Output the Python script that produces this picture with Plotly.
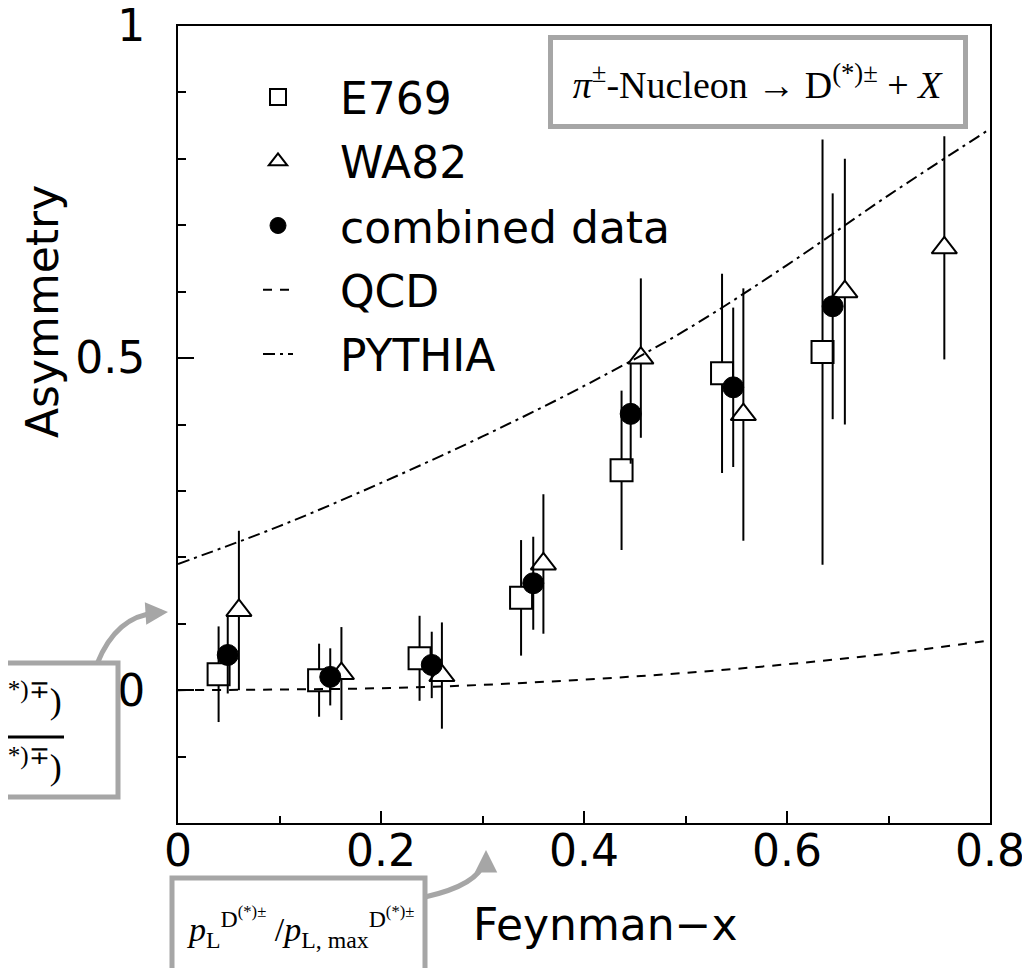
import plotly.graph_objects as go

# ---------------- data ----------------
e769_x = [0.040, 0.139, 0.238, 0.338, 0.437, 0.536, 0.635]
e769_y = [0.024, 0.015, 0.048, 0.139, 0.331, 0.477, 0.509]
e769_err = [0.072, 0.055, 0.064, 0.087, 0.120, 0.150, 0.320]

wa82_x = [0.060, 0.161, 0.260, 0.360, 0.456, 0.557, 0.657, 0.755]
wa82_y = [0.120, 0.025, 0.022, 0.190, 0.500, 0.415, 0.600, 0.666]
wa82_err = [0.120, 0.070, 0.080, 0.105, 0.120, 0.190, 0.200, 0.168]

comb_x = [0.049, 0.150, 0.250, 0.350, 0.446, 0.547, 0.645]
comb_y = [0.053, 0.020, 0.038, 0.161, 0.416, 0.456, 0.578]
comb_err = [0.058, 0.043, 0.050, 0.070, 0.075, 0.120, 0.170]

curve_x = [0.0, 0.1, 0.2, 0.3, 0.4, 0.5, 0.6, 0.7, 0.8]
qcd_y = [0.0, 0.001, 0.003, 0.008, 0.016, 0.026, 0.039, 0.055, 0.075]
pythia_y = [0.190, 0.247, 0.312, 0.382, 0.458, 0.542, 0.640, 0.745, 0.845]

x_ticks = [0, 0.2, 0.4, 0.6, 0.8]
x_tick_labels = ["0", "0.2", "0.4", "0.6", "0.8"]
y_ticks = [0, 0.5, 1]
y_tick_labels = ["0", "0.5", "1"]

# ---------------- layout helpers ----------------
# the page body has an 8px margin, so the figure is drawn 8px in from the corner
OFF = 8
W, H = 1030 - OFF, 968 - OFF
ML, MR, MT, MB = 178 - OFF, 40, 26 - OFF, 145
PW, PH = W - ML - MR, H - MT - MB


def px(xp):
    """picture x pixel -> paper coordinate"""
    return (xp - OFF - ML) / PW


def py(yp):
    """picture y pixel -> paper coordinate"""
    return (H - MB - (yp - OFF)) / PH


SANS = "DejaVu Sans"
SERIF = "Liberation Serif"
GRAY = "#a6a6a6"

fig = go.Figure()

err_style = dict(type="data", width=0, thickness=2, color="black")
pad = "\u00a0\u00a0\u00a0"

fig.add_trace(go.Scatter(
    x=e769_x, y=e769_y, mode="markers", name=pad + "E769", legendgroup="a",
    error_y=dict(array=e769_err, **err_style),
    marker=dict(symbol="square", size=22, color="white", line=dict(color="black", width=2)),
))
fig.add_trace(go.Scatter(
    x=wa82_x, y=wa82_y, mode="markers", name=pad + "WA82", legendgroup="b",
    error_y=dict(array=wa82_err, **err_style),
    marker=dict(symbol="triangle-up", size=22, color="white", line=dict(color="black", width=2)),
))
fig.add_trace(go.Scatter(
    x=comb_x, y=comb_y, mode="markers", name=pad + "combined data", legendgroup="c",
    error_y=dict(array=comb_err, **err_style),
    marker=dict(symbol="circle", size=21, color="black", line=dict(color="black", width=1)),
))
fig.add_trace(go.Scatter(
    x=curve_x, y=qcd_y, mode="lines", name=pad + "QCD", legendgroup="d",
    line=dict(color="black", width=2, dash="9px,8px", shape="spline"),
))
fig.add_trace(go.Scatter(
    x=curve_x, y=pythia_y, mode="lines", name=pad + "PYTHIA", legendgroup="e",
    line=dict(color="black", width=2, dash="12px,5px,3px,5px", shape="spline"),
))

axis_common = dict(
    showgrid=False, zeroline=False, showline=True, linecolor="black", linewidth=2,
    mirror=True, ticks="inside", tickcolor="black", tickwidth=2,
    tickfont=dict(family=SANS, size=44, color="black"),
    ticklabeloverflow="allow",
)

fig.update_xaxes(
    range=[0, 0.8], tickvals=x_ticks, ticktext=x_tick_labels, ticklen=12,
    ticklabelstandoff=-12,
    minor=dict(dtick=0.1, tick0=0, ticks="inside", ticklen=7, tickwidth=2, tickcolor="black"),
    **axis_common,
)
fig.update_yaxes(
    range=[-0.2, 1.0], tickvals=y_ticks, ticktext=y_tick_labels, ticklen=16,
    ticklabelstandoff=22,
    minor=dict(dtick=0.1, tick0=0, ticks="inside", ticklen=8, tickwidth=2, tickcolor="black"),
    **axis_common,
)

shapes = []
annotations = []

# axis titles
annotations.append(dict(
    xref="paper", yref="paper", x=px(42), y=py(312), text="Asymmetry", textangle=-90,
    showarrow=False, font=dict(family=SANS, size=44, color="black"),
    xanchor="center", yanchor="middle",
))
annotations.append(dict(
    xref="paper", yref="paper", x=px(605), y=py(924), text="Feynman\u2212x",
    showarrow=False, font=dict(family=SANS, size=44, color="black"),
    xanchor="center", yanchor="middle",
))

# top-right reaction box
annotations.append(dict(
    xref="paper", yref="paper", x=px(758), y=py(82),
    text="<i>\u03c0</i><sup>\u00b1</sup>-Nucleon \u2192 D<sup>(*)\u00b1</sup> + <i>X</i>",
    showarrow=False, font=dict(family=SERIF, size=38, color="black"),
    bgcolor="white", bordercolor=GRAY, borderwidth=5, borderpad=0,
    width=410, height=84, xanchor="center", yanchor="middle", align="center",
))

# bottom box (x-axis meaning)
shapes.append(dict(type="rect", xref="paper", yref="paper",
                   x0=px(172), x1=px(425), y0=py(1000), y1=py(878),
                   line=dict(color=GRAY, width=5), fillcolor="white", layer="above"))
annotations.append(dict(
    xref="paper", yref="paper", x=px(300), y=py(928),
    text="<i>p</i><sub>L</sub><sup>D<sup>(*)\u00b1</sup></sup> /<i>p</i><sub>L, max</sub><sup>D<sup>(*)\u00b1</sup></sup>",
    showarrow=False, font=dict(family=SERIF, size=34, color="black"),
    xanchor="center", yanchor="middle",
))
shapes.append(dict(type="path", xref="paper", yref="paper",
                   path=f"M {px(425)} {py(897)} Q {px(478)} {py(885)} {px(484)} {py(862)}",
                   line=dict(color=GRAY, width=5), layer="above"))
annotations.append(dict(
    xref="paper", yref="paper", x=px(486), y=py(850), ax=0, ay=16,
    axref="pixel", ayref="pixel", text="", showarrow=True,
    arrowhead=2, arrowsize=0.9, arrowwidth=5, arrowcolor=GRAY,
))

# left box (asymmetry definition, cut by the page edge)
shapes.append(dict(type="rect", xref="paper", yref="paper",
                   x0=px(-20), x1=px(118), y0=py(797), y1=py(663),
                   line=dict(color=GRAY, width=5), fillcolor="white", layer="above"))
annotations.append(dict(
    xref="paper", yref="paper", x=px(64), y=py(698),
    text="\u03c3(D<sup>(*)\u00b1</sup>) \u2212 \u03c3(D<sup>(*)\u2213</sup>)",
    showarrow=False, font=dict(family=SERIF, size=36, color="black"),
    xanchor="right", yanchor="middle",
))
annotations.append(dict(
    xref="paper", yref="paper", x=px(64), y=py(764),
    text="\u03c3(D<sup>(*)\u00b1</sup>) + \u03c3(D<sup>(*)\u2213</sup>)",
    showarrow=False, font=dict(family=SERIF, size=36, color="black"),
    xanchor="right", yanchor="middle",
))
# fraction bar
shapes.append(dict(type="line", xref="paper", yref="paper",
                   x0=px(-20), x1=px(64), y0=py(737), y1=py(737),
                   line=dict(color="black", width=3), layer="above"))
shapes.append(dict(type="path", xref="paper", yref="paper",
                   path=f"M {px(97)} {py(664)} Q {px(116)} {py(616)} {px(156)} {py(613)}",
                   line=dict(color=GRAY, width=5), layer="above"))
annotations.append(dict(
    xref="paper", yref="paper", x=px(168), y=py(612), ax=-16, ay=1,
    axref="pixel", ayref="pixel", text="", showarrow=True,
    arrowhead=2, arrowsize=0.9, arrowwidth=5, arrowcolor=GRAY,
))

fig.update_layout(
    width=W, height=H,
    margin=dict(l=ML, r=MR, t=MT, b=MB, autoexpand=False),
    paper_bgcolor="white", plot_bgcolor="white",
    showlegend=True,
    legend=dict(
        x=px(258), y=py(62), xanchor="left", yanchor="top",
        font=dict(family=SANS, size=44, color="black"),
        bgcolor="rgba(0,0,0,0)", borderwidth=0, tracegroupgap=4,
        itemwidth=30,
    ),
    shapes=shapes, annotations=annotations,
)

fig.write_html("out.html")
